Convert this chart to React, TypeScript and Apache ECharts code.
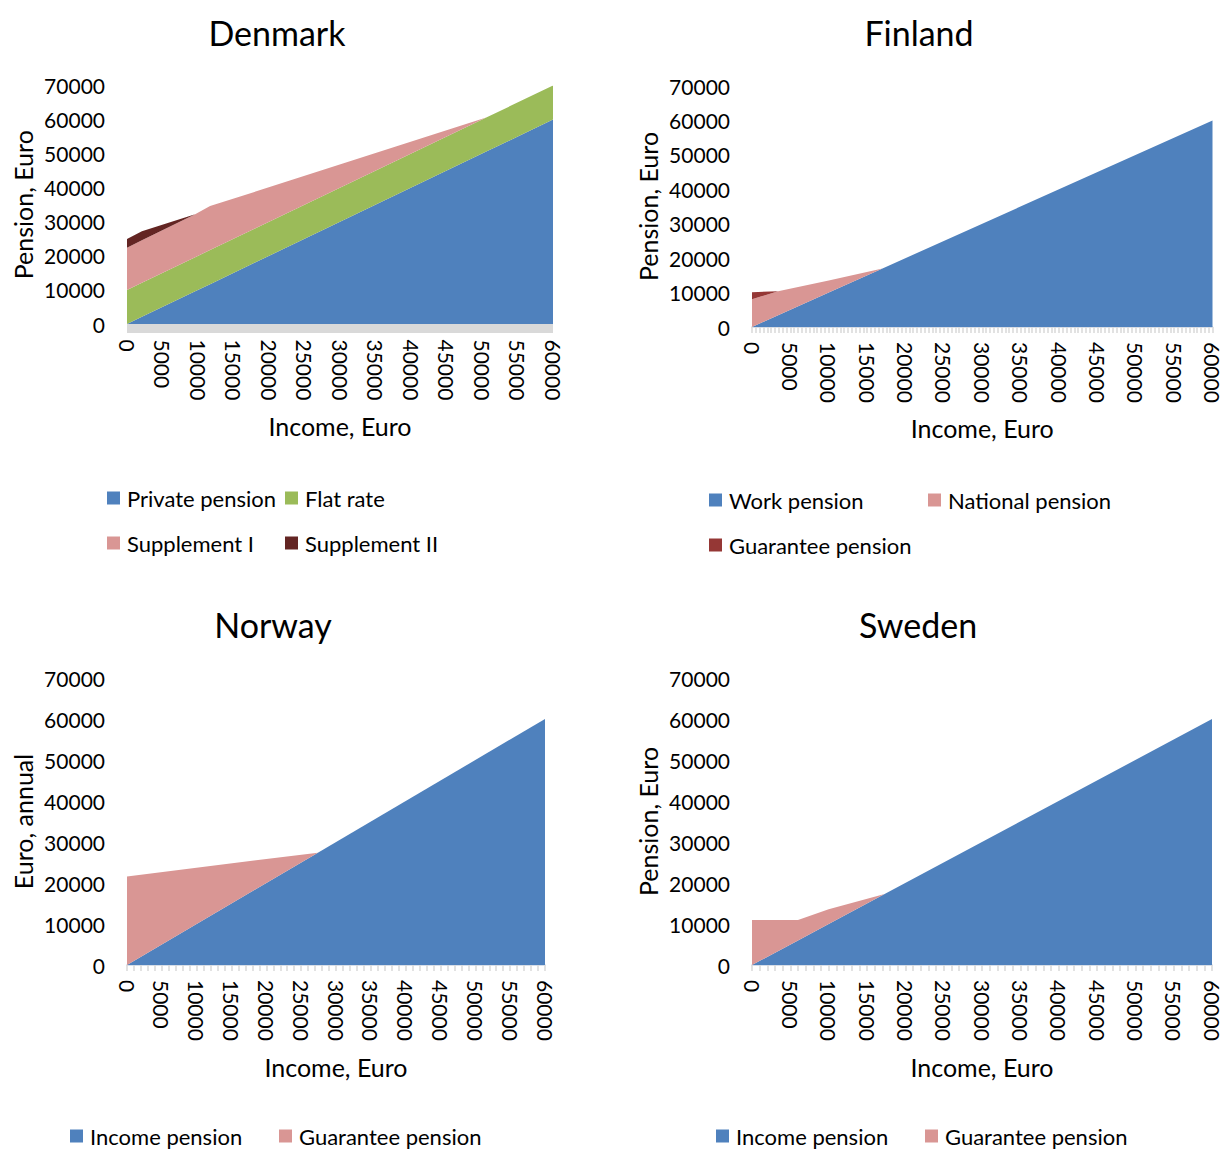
import React, { useEffect, useRef } from "react";
import * as echarts from "echarts";

// ---------- data ----------
const titles = ["Denmark", "Finland", "Norway", "Sweden"];
const yNames = ["Pension, Euro", "Pension, Euro", "Euro, annual", "Pension, Euro"];
const xName = "Income, Euro";

// Denmark (stacked)
const dkIncome = [0, 2100, 9600, 11700, 50600, 60000];
const dkPrivate = [0, 2100, 9600, 11700, 50600, 60000];
const dkFlat = [10000, 10000, 10000, 10000, 10000, 10000];
const dkSupp1 = [12400, 12450, 12600, 12900, 0, 0];
const dkSupp2 = [2550, 2650, 0, 0, 0, 0];

// Finland (stacked)
const fiIncome = [0, 3400, 10000, 17000, 60000];
const fiWork = [0, 3400, 10000, 17000, 60000];
const fiNational = [8050, 7000, 3500, 0, 0];
const fiGuarantee = [2050, 0, 0, 0, 0];

// Norway (stacked)
const noIncome = [0, 27400, 60000];
const noIncomePension = [0, 27400, 60000];
const noGuarantee = [21600, 0, 0];

// Sweden (stacked)
const seIncome = [0, 6000, 10000, 17300, 60000];
const seIncomePension = [0, 6000, 10000, 17300, 60000];
const seGuarantee = [11000, 5000, 3600, 0, 0];

const C_BLUE = "#4f81bd";
const C_GREEN = "#9bbb59";
const C_PINK = "#d99694";
const C_DKRED = "#632523";
const C_RED = "#953735";

const FONT = "Lato";

// rows are [pension, income] so that the stacked dimension is the pension value
const rows = (xs: number[], ys: number[]) => xs.map((x, i) => [ys[i], x]);

function areaSeries(name: string, color: string, xs: number[], ys: number[], idx: number, stack: string) {
  return {
    type: "line",
    name,
    xAxisIndex: idx,
    yAxisIndex: idx,
    stack,
    data: rows(xs, ys),
    encode: { x: 1, y: 0 },
    showSymbol: false,
    symbol: "none",
    color,
    lineStyle: { width: 0, color },
    itemStyle: { color },
    areaStyle: { color, opacity: 1 },
    emphasis: { disabled: true },
  };
}

export default function App() {
  const ref = useRef<HTMLDivElement>(null);
  useEffect(() => {
    if (!ref.current) return;
    const chart = echarts.init(ref.current, undefined, { renderer: "svg" });

    const grids = [
      { left: 127, top: 85.5, width: 426, height: 238.5 },
      { left: 752, top: 86, width: 462, height: 241 },
      { left: 127, top: 678, width: 418, height: 287 },
      { left: 752, top: 678, width: 460, height: 287 },
    ];
    const minorSplit = [0, 10, 5, 5];
    const xNameGap = [85, 88, 89, 89];

    const xAxes = grids.map((_, i) => ({
      type: "value",
      gridIndex: i,
      min: 0,
      max: 60000,
      interval: 5000,
      name: xName,
      nameLocation: "middle",
      nameGap: xNameGap[i],
      nameTextStyle: { fontFamily: FONT, fontSize: 25, color: "#000" },
      offset: i === 0 ? 4.5 : 0,
      axisLine: {
        show: true,
        onZero: false,
        lineStyle: i === 0 ? { color: "#d9d9d9", width: 9, cap: "butt" } : { color: "#c8d3e3", width: 1.5 },
      },
      axisTick: i === 0 ? { show: false } : { show: true, length: 6, lineStyle: { color: "#d9d9d9", width: 1.5 } },
      minorTick: i === 0 ? { show: false } : { show: true, splitNumber: minorSplit[i], length: 6, lineStyle: { color: "#d9d9d9", width: 1.5 } },
      splitLine: { show: false },
      minorSplitLine: { show: false },
      axisLabel: {
        rotate: -90,
        margin: i === 0 ? 11 : 15,
        fontFamily: FONT,
        fontSize: 21,
        color: "#000",
        formatter: (v: number) => String(v),
      },
    }));

    const yAxes = grids.map((_, i) => ({
      type: "value",
      gridIndex: i,
      min: 0,
      max: 70000,
      interval: 10000,
      name: yNames[i],
      nameLocation: "middle",
      nameGap: 92,
      nameTextStyle: { fontFamily: FONT, fontSize: 25, color: "#000" },
      axisLine: { show: false },
      axisTick: { show: false },
      splitLine: { show: false },
      axisLabel: {
        margin: 22,
        fontFamily: FONT,
        fontSize: 21,
        color: "#000",
        formatter: (v: number) => String(v),
      },
    }));

    const series = [
      areaSeries("Private pension", C_BLUE, dkIncome, dkPrivate, 0, "dk"),
      areaSeries("Flat rate", C_GREEN, dkIncome, dkFlat, 0, "dk"),
      areaSeries("Supplement I", C_PINK, dkIncome, dkSupp1, 0, "dk"),
      areaSeries("Supplement II", C_DKRED, dkIncome, dkSupp2, 0, "dk"),
      areaSeries("Work pension", C_BLUE, fiIncome, fiWork, 1, "fi"),
      areaSeries("National pension", C_PINK, fiIncome, fiNational, 1, "fi"),
      areaSeries("Guarantee pension", C_RED, fiIncome, fiGuarantee, 1, "fi"),
      areaSeries("Income pension", C_BLUE, noIncome, noIncomePension, 2, "no"),
      areaSeries("Guarantee pension", C_PINK, noIncome, noGuarantee, 2, "no"),
      areaSeries("Income pension", C_BLUE, seIncome, seIncomePension, 3, "se"),
      areaSeries("Guarantee pension", C_PINK, seIncome, seGuarantee, 3, "se"),
    ];

    const legendItems: [string, string, number, number][] = [
      ["Private pension", C_BLUE, 107, 498],
      ["Flat rate", C_GREEN, 285, 498],
      ["Supplement I", C_PINK, 107, 543],
      ["Supplement II", C_DKRED, 285, 543],
      ["Work pension", C_BLUE, 709, 500],
      ["National pension", C_PINK, 928, 500],
      ["Guarantee pension", C_RED, 709, 545],
      ["Income pension", C_BLUE, 70, 1136],
      ["Guarantee pension", C_PINK, 279, 1136],
      ["Income pension", C_BLUE, 716, 1136],
      ["Guarantee pension", C_PINK, 925, 1136],
    ];

    const legends = legendItems.map(([name, color, x, cy]) => ({
      left: x,
      top: cy - 11,
      padding: 0,
      icon: "rect",
      itemWidth: 13,
      itemHeight: 13,
      selectedMode: false,
      textStyle: { fontFamily: FONT, fontSize: 22, color: "#000", padding: [0, 0, 0, 2] },
      data: [{ name, itemStyle: { color, borderWidth: 0 }, icon: "rect" }],
    }));

    const titlePos: [number, number][] = [
      [277, 32],
      [919, 32],
      [273, 624],
      [918, 624],
    ];

    chart.setOption({
      animation: false,
      backgroundColor: "#fff",
      grid: grids,
      xAxis: xAxes,
      yAxis: yAxes,
      legend: legends,
      series,
      graphic: titles.map((t, i) => ({
        type: "text",
        x: titlePos[i][0],
        y: titlePos[i][1],
        style: {
          text: t,
          fontFamily: FONT,
          fontSize: 34,
          fill: "#000",
          textAlign: "center",
          textVerticalAlign: "middle",
        },
      })),
    });
    return () => chart.dispose();
  }, []);
  return (
    <div
      ref={ref}
      style={{ position: "absolute", left: 0, top: 0, width: 1223, height: 1149 }}
    />
  );
}
